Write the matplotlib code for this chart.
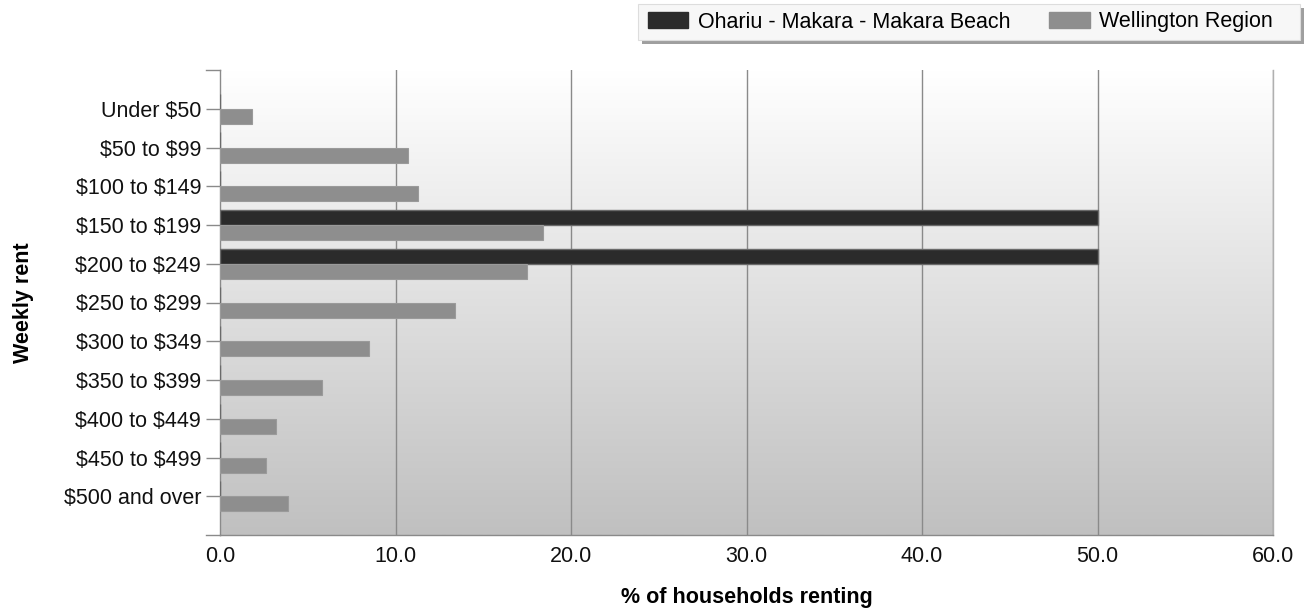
import matplotlib
matplotlib.use("Agg")
import matplotlib.pyplot as plt
import numpy as np
from matplotlib.patches import Patch, FancyBboxPatch
from matplotlib.colors import LinearSegmentedColormap
from matplotlib.transforms import ScaledTranslation

plt.rcParams['font.family'] = ['Liberation Sans', 'DejaVu Sans']
plt.rcParams['text.parse_math'] = False

categories = ["Under $50", "$50 to $99", "$100 to $149", "$150 to $199", "$200 to $249",
              "$250 to $299", "$300 to $349", "$350 to $399", "$400 to $449",
              "$450 to $499", "$500 and over"]
ohariu = [0, 0, 0, 50.0, 50.0, 0, 0, 0, 0, 0, 0]
wellington = [1.8, 10.7, 11.3, 18.4, 17.5, 13.4, 8.5, 5.8, 3.2, 2.6, 3.9]
series_names = ["Ohariu - Makara - Makara Beach", "Wellington Region"]
xticks = [0, 10, 20, 30, 40, 50, 60]

W, H = 1313, 614
fig = plt.figure(figsize=(W/100, H/100), dpi=100)
ax = fig.add_axes([220/W, 1-535/H, (1273-220)/W, (535-70)/H])

# gradient background (white at top, grey at bottom)
grad = np.linspace(0, 1, 256).reshape(-1, 1)
cmap = LinearSegmentedColormap.from_list("bg", ["#ffffff", "#c0c0c0"])
ax.imshow(grad, aspect='auto', cmap=cmap, extent=[0, 60, 11, -1], origin='upper',
          zorder=0, interpolation='bilinear')

y = np.arange(len(categories))
h = 0.39
ax.barh(y - h/2, ohariu, height=h, color="#2b2b2b", edgecolor="#6a6a6a", linewidth=1, zorder=3)
ax.barh(y + h/2, wellington, height=h, color="#8e8e8e", edgecolor="#9a9a9a", linewidth=0.8, zorder=3)

ax.set_xlim(0, 60)
ax.set_ylim(11, -1)
ax.set_yticks(y)
ax.set_yticklabels(categories, fontsize=15.5, color="#111111")
offset = ScaledTranslation(0, 2.5/100, fig.dpi_scale_trans)
for lab in ax.get_yticklabels():
    lab.set_transform(lab.get_transform() + offset)
ax.set_xticks(xticks)
ax.set_xticklabels([f"{v:.1f}" for v in xticks], fontsize=15.5, color="#111111")
for v in xticks[1:]:
    ax.axvline(v, color="#8a8a8a", linewidth=1, zorder=1)
ax.tick_params(axis='y', length=10, color="#8a8a8a", width=1, pad=3.5)
ax.tick_params(axis='x', length=0, pad=8)
ax.spines['top'].set_visible(False)
for s in ['left', 'bottom', 'right']:
    ax.spines[s].set_color("#8a8a8a")
    ax.spines[s].set_linewidth(1)
ax.spines['right'].set_color("#b0b0b0")
ax.plot([-14/17.55, 0], [-1, -1], color="#8a8a8a", lw=1, clip_on=False, zorder=4)
ax.plot([-14/17.55, 0], [11, 11], color="#8a8a8a", lw=1, clip_on=False, zorder=4)

ax.set_xlabel("% of households renting", fontsize=15.5, fontweight='bold', labelpad=14)
ax.set_ylabel("Weekly rent", fontsize=15.5, fontweight='bold')
ax.yaxis.set_label_coords(-186/1053, 0.5)

# legend with shadow
shadow = FancyBboxPatch((642/W, 1-44/H), (1304-642)/W, 36/H, boxstyle="square,pad=0",
                        transform=fig.transFigure, facecolor="#606060", edgecolor="none", alpha=0.6)
box = FancyBboxPatch((638/W, 1-40/H), (1300-638)/W, 36/H, boxstyle="square,pad=0",
                     transform=fig.transFigure, facecolor="#f7f7f7", edgecolor="#dddddd", lw=0.8)
fig.patches.extend([shadow, box])
handles = [Patch(facecolor="#2b2b2b", edgecolor="#2b2b2b"), Patch(facecolor="#8e8e8e", edgecolor="#8e8e8e")]
leg = fig.legend(handles, series_names, loc='center', bbox_to_anchor=(960/W, 1-22/H), ncol=2,
                 frameon=False, fontsize=15.5, handlelength=1.9, handleheight=0.8,
                 columnspacing=1.8, handletextpad=0.42, borderpad=0)

fig.savefig("out.png", dpi=100)
